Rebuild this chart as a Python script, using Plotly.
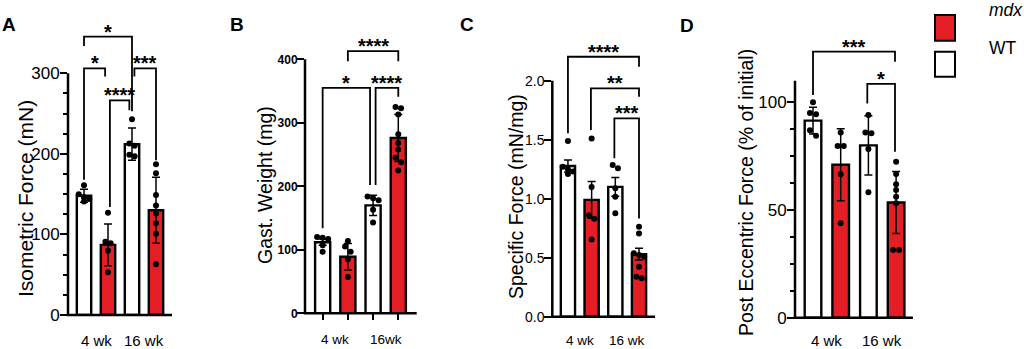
import plotly.graph_objects as go

FONT = "Arial, Liberation Sans, Helvetica, sans-serif"
RED = "#E31E24"
W, H = 1024, 349

# ---------------- data ----------------
bar_colors = ["white", RED, "white", RED]          # WT 4wk, mdx 4wk, WT 16wk, mdx 16wk
age_labels = ["4 wk", "16 wk"]
age_labels_b = ["4 wk", "16wk"]

# A: Isometric force (mN)
iso_mean = [148, 87, 212, 130]
iso_err = [8, 26, 20, 41]
iso_pts = [[161, 150, 146, 144, 141],
           [127, 91, 89, 80, 53],
           [243, 213, 210, 199, 197],
           [187, 176, 149, 136, 126, 114, 101, 63]]
iso_sig = [(0, 2, 345.5, 334, 253, "*"),
           (0, 0.88, 306, 168, 296, "*"),
           (1.08, 1.89, 266.5, 134, 254, "****"),
           (2.1, 3, 306, 296, 192, "***")]

# B: Gastrocnemius weight (mg)
gast_mean = [112, 89, 170, 276]
gast_err = [5, 21, 16, 37]
gast_pts = [[120, 119, 117, 107, 97],
            [114, 105, 97, 85, 57],
            [184, 181, 178, 163, 143],
            [325, 323, 313, 282, 268, 258, 245, 238, 225]]
gast_sig = [(1, 3, 413, 397, 397, "****"),
            (0, 1.88, 355, 134, 202, "*"),
            (2.1, 3, 355, 202, 341, "****")]

# C: Specific force (mN/mg)
spec_mean = [1.277, 0.99, 1.10, 0.53]
spec_err = [0.05, 0.155, 0.08, 0.05]
spec_pts = [[1.49, 1.27, 1.25, 1.23, 1.21],
            [1.51, 1.10, 0.86, 0.83, 0.655],
            [1.285, 1.257, 1.088, 1.017, 0.876],
            [0.763, 0.706, 0.537, 0.523, 0.508, 0.424, 0.339, 0.325]]
spec_sig = [(0, 3, 2.203, 1.554, 2.119, "****"),
            (0.97, 3, 1.935, 1.582, 1.864, "**"),
            (1.96, 3, 1.681, 1.342, 0.833, "***")]

# D: Post eccentric force (% of initial)
ecc_mean = [91.5, 71, 80, 53.5]
ecc_err = [6.2, 16.7, 13.7, 14.4]
ecc_pts = [[100, 95, 94.5, 87, 84.5],
           [86, 79.7, 79.7, 66.6, 43.8],
           [94.1, 86, 85.6, 78.3, 58.2],
           [72.4, 66.7, 61.9, 59.3, 56.2, 53.1, 31.4, 31.4]]
ecc_sig = [(0, 2.96, 123.5, 103.4, 118.8, "***"),
           (1.96, 2.96, 108.6, 99.5, 77, "*")]

# ---------------- layout per panel ----------------
panels = [
    dict(letter="A", mean=iso_mean, err=iso_err, pts=iso_pts, sig=iso_sig,
         title="Isometric Force (mN)", title_xy=(25, 199), title_size=21,
         xpx=(68, 172), xr=(-0.667, 3.667), y0px=315, yref=(300, 73.3), rtop=355,
         axis_top=300, ticks=[0, 100, 200, 300], ticktext=["0", "100", "200", "300"],
         minor=[v for v in range(25, 300, 25) if v % 100], tickfont=dict(size=17),
         groups=age_labels, group_y=340, group_size=15, letter_xy=(9, 25), xticks=False),
    dict(letter="B", mean=gast_mean, err=gast_err, pts=gast_pts, sig=gast_sig,
         title="Gast. Weight (mg)", title_xy=(265, 185), title_size=19.5,
         xpx=(305, 416.7), xr=(-0.70, 3.73), y0px=313.3, yref=(400, 59.3), rtop=420,
         axis_top=400, ticks=[0, 100, 200, 300, 400], ticktext=["0", "100", "200", "300", "400"],
         minor=[], tickfont=dict(size=12, weight="bold"),
         groups=age_labels_b, group_y=339, group_size=13.5, letter_xy=(237, 25), xticks=True),
    dict(letter="C", mean=spec_mean, err=spec_err, pts=spec_pts, sig=spec_sig,
         title="Specific Force (mN/mg)", title_xy=(516, 197), title_size=19.5,
         xpx=(552.3, 655), xr=(-0.66, 3.675), y0px=316.7, yref=(2.0, 80.7), rtop=2.23,
         axis_top=2.0, ticks=[0, 0.5, 1.0, 1.5, 2.0], ticktext=["0.0", "0.5", "1.0", "1.5", "2.0"],
         minor=[], tickfont=dict(size=14),
         groups=age_labels, group_y=340, group_size=13.5, letter_xy=(467, 25), xticks=False),
    dict(letter="D", mean=ecc_mean, err=ecc_err, pts=ecc_pts, sig=ecc_sig,
         title="Post Eccentric Force (% of initial)", title_xy=(746, 193), title_size=19.5,
         xpx=(795, 913), xr=(-0.65, 3.61), y0px=317.7, yref=(100, 102.3), rtop=126,
         axis_top=110, ticks=[0, 50, 100], ticktext=["0", "50", "100"],
         minor=[12.5, 25, 37.5, 62.5, 75, 87.5], tickfont=dict(size=17),
         groups=age_labels, group_y=340, group_size=15, letter_xy=(687, 26), xticks=False),
]


def px_x(p):
    return p / W


def px_y(p):
    return 1 - p / H


def swarm_offsets(vals, thresh, step=0.22):
    order = sorted(range(len(vals)), key=lambda i: -vals[i])
    rows, cur = [], []
    for i in order:
        if cur and abs(vals[cur[0]] - vals[i]) > thresh:
            rows.append(cur)
            cur = []
        cur.append(i)
    if cur:
        rows.append(cur)
    offs = [0.0] * len(vals)
    for row in rows:
        k = len(row)
        for j, i in enumerate(row):
            offs[i] = (j - (k - 1) / 2) * step
    return offs


fig = go.Figure()
layout = dict(width=W, height=H, margin=dict(l=0, r=0, t=0, b=0, autoexpand=False),
              template="none",
              paper_bgcolor="white", plot_bgcolor="rgba(0,0,0,0)",
              showlegend=False, font=dict(family=FONT, color="black"),
              shapes=[], annotations=[])

for k, p in enumerate(panels, start=1):
    xa = "x" if k == 1 else f"x{k}"
    ya = "y" if k == 1 else f"y{k}"
    scale = (p["y0px"] - p["yref"][1]) / p["yref"][0]  # px per unit
    top_px = p["y0px"] - p["rtop"] * scale

    layout[f"xaxis{'' if k == 1 else k}"] = dict(
        domain=[px_x(p["xpx"][0]), px_x(p["xpx"][1])], anchor=ya, range=list(p["xr"]),
        showline=False, zeroline=False, showgrid=False, showticklabels=False,
        automargin=False,
        tickvals=[0, 1, 2, 3] if p["xticks"] else [], ticks="outside" if p["xticks"] else "",
        ticklen=6, tickwidth=2, tickcolor="black", fixedrange=True)
    layout[f"yaxis{'' if k == 1 else k}"] = dict(
        domain=[px_y(p["y0px"]), px_y(top_px)], anchor=xa, range=[0, p["rtop"]],
        showline=False, zeroline=False, showgrid=False, automargin=False,
        tickvals=p["ticks"], ticktext=p["ticktext"], ticks="outside", ticklen=7,
        tickwidth=2, tickcolor="black", tickfont=p["tickfont"], ticklabelstandoff=-3,
        minor=dict(tickmode="array", tickvals=p["minor"], ticks="outside" if p["minor"] else "",
                   ticklen=4, tickwidth=2, tickcolor="black"),
        fixedrange=True)

    # bars
    fig.add_trace(go.Bar(x=[0, 1, 2, 3], y=p["mean"], width=0.6, xaxis=xa, yaxis=ya,
                         marker=dict(color=bar_colors, line=dict(color="black", width=2.4)),
                         error_y=dict(type="data", array=p["err"], color="black",
                                      thickness=1.5, width=4)))
    # points
    thresh = 5.5 / scale
    for g, vals in enumerate(p["pts"]):
        offs = swarm_offsets(vals, thresh)
        fig.add_trace(go.Scatter(x=[g + o for o in offs], y=vals, mode="markers",
                                 xaxis=xa, yaxis=ya, cliponaxis=False,
                                 marker=dict(color="black", size=6)))

    # axis lines
    xwidth = p["xpx"][1] - p["xpx"][0]
    layout["shapes"].append(dict(type="line", xref=f"{xa} domain", yref=ya,
                                 x0=0, x1=0, y0=0, y1=p["axis_top"],
                                 line=dict(color="black", width=2.5)))
    layout["shapes"].append(dict(type="line", xref=f"{xa} domain", yref=f"{ya} domain",
                                 x0=-1.25 / xwidth, x1=1, y0=0, y1=0,
                                 line=dict(color="black", width=2.5)))

    # significance brackets
    for (xl, xr_, yt, yl, yr, lab) in p["sig"]:
        fig.add_trace(go.Scatter(x=[xl, xl, xr_, xr_], y=[yl, yt, yt, yr], mode="lines",
                                 xaxis=xa, yaxis=ya, line=dict(color="black", width=1.8),
                                 hoverinfo="skip"))
        layout["annotations"].append(dict(x=(xl + xr_) / 2, y=yt, xref=xa, yref=ya,
                                          text=f"<b>{lab}</b>", showarrow=False,
                                          yanchor="bottom", yshift=-8,
                                          font=dict(size=20, family=FONT)))

    # group labels
    for gx, gl in zip([0.5, 2.5], p["groups"]):
        layout["annotations"].append(dict(x=gx, y=px_y(p["group_y"]), xref=xa, yref="paper",
                                          text=gl, showarrow=False, yanchor="middle",
                                          font=dict(size=p["group_size"])))
    # y title
    tx, ty = p["title_xy"]
    layout["annotations"].append(dict(x=px_x(tx), y=px_y(ty), xref="paper", yref="paper",
                                      text=p["title"], textangle=-90, showarrow=False,
                                      xanchor="center", yanchor="middle",
                                      font=dict(size=p["title_size"])))
    # panel letter
    lx, ly = p["letter_xy"]
    layout["annotations"].append(dict(x=px_x(lx), y=px_y(ly), xref="paper", yref="paper",
                                      text=f"<b>{p['letter']}</b>", showarrow=False,
                                      xanchor="center", yanchor="middle",
                                      font=dict(size=19)))

# legend (manual)
layout["shapes"].append(dict(type="rect", xref="paper", yref="paper",
                             x0=px_x(935), x1=px_x(955), y0=px_y(40.7), y1=px_y(15),
                             fillcolor=RED, line=dict(color="black", width=2)))
layout["shapes"].append(dict(type="rect", xref="paper", yref="paper",
                             x0=px_x(935), x1=px_x(955), y0=px_y(76.7), y1=px_y(51.7),
                             fillcolor="white", line=dict(color="black", width=2)))
layout["annotations"].append(dict(x=px_x(987), y=px_y(10), xref="paper", yref="paper",
                                  text="<i>mdx</i>", showarrow=False, xanchor="left",
                                  yanchor="middle", font=dict(size=17.5)))
layout["annotations"].append(dict(x=px_x(987), y=px_y(48), xref="paper", yref="paper",
                                  text="WT", showarrow=False, xanchor="left",
                                  yanchor="middle", font=dict(size=17.5)))

fig.update_layout(**layout)
fig.write_html("out.html", config={"displayModeBar": False, "staticPlot": True},
               post_script="document.body.style.margin='0';document.body.style.overflow='hidden';")
